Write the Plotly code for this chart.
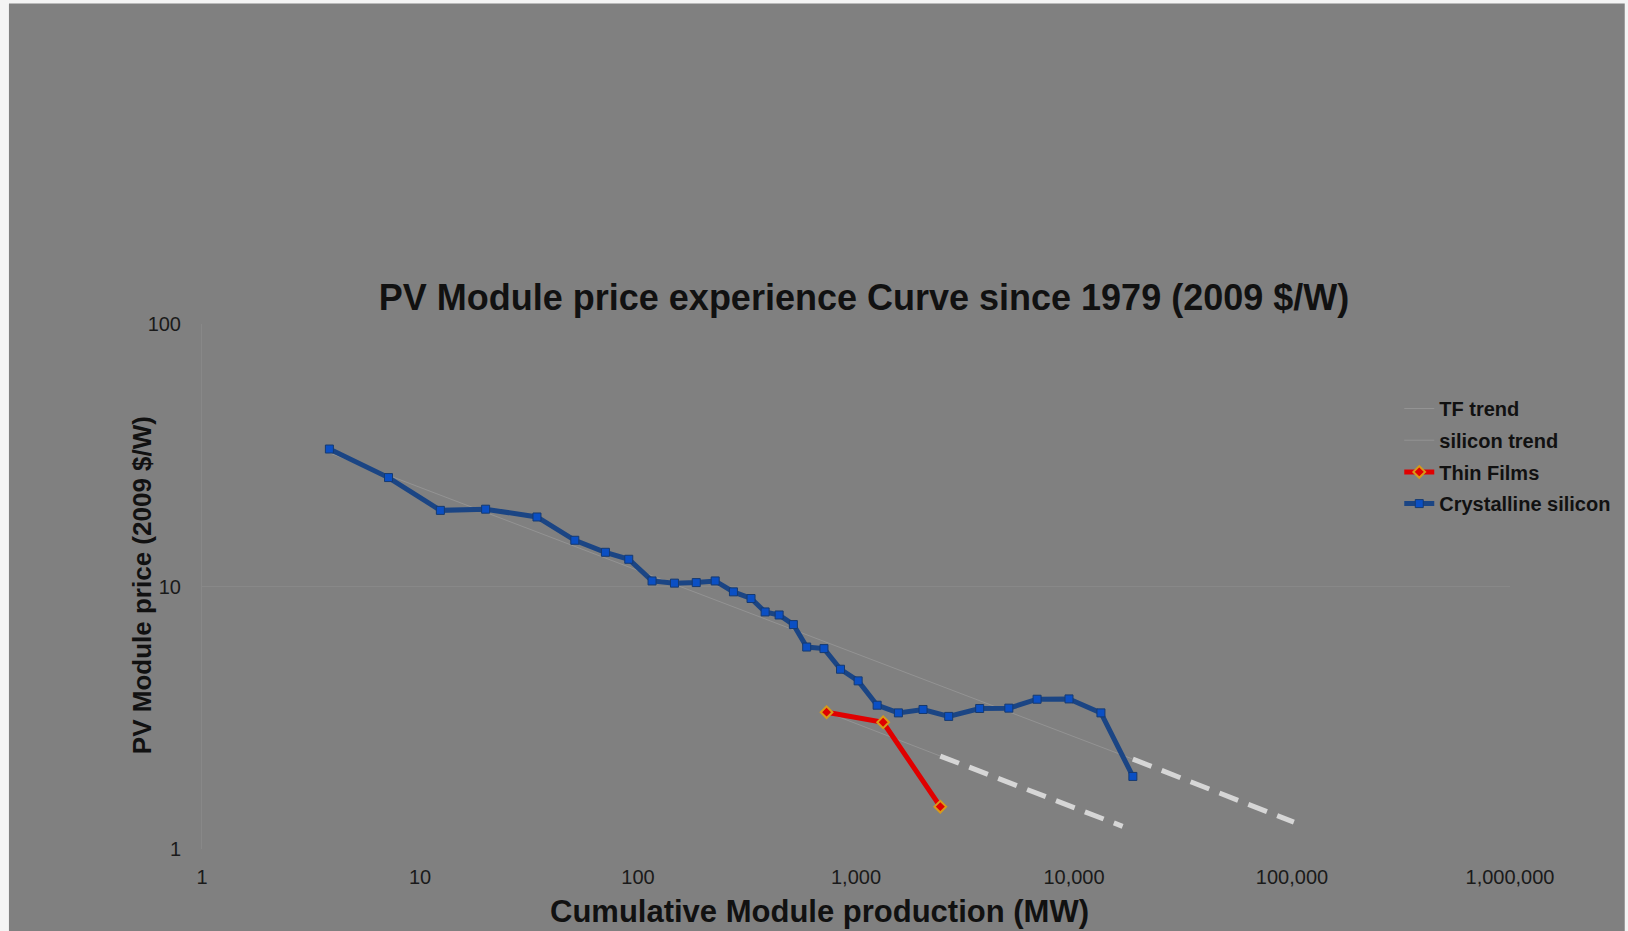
import plotly.graph_objects as go

# Crystalline silicon, one point per year 1979-2009 (cumulative MW, 2009 $/W)
si_mw = [3.84, 7.17, 12.4, 20.0, 34.4, 51.3, 70.9, 90.7, 116, 147, 185, 226, 274,
         330, 383, 444, 516, 594, 713, 849, 1023, 1250, 1565, 2030, 2662, 3692,
         5024, 6771, 9487, 13293, 18620]
si_price = [33.4, 26.0, 19.5, 19.7, 18.4, 15.0, 13.5, 12.7, 10.5, 10.3, 10.35, 10.5,
            9.54, 9.0, 8.0, 7.79, 7.16, 5.88, 5.80, 4.84, 4.37, 3.53, 3.30, 3.40,
            3.20, 3.43, 3.44, 3.72, 3.73, 3.30, 1.89]

# Thin films
tf_mw = [733, 1332, 2436]
tf_price = [3.32, 3.04, 1.45]

# trend lines (fitted part) and their projections
si_trend_mw = [3.84, 18620]
si_trend_price = [32.3, 2.20]
si_proj_mw = [18620, 102000]
si_proj_price = [2.20, 1.265]
tf_trend_mw = [733, 2436]
tf_trend_price = [3.32, 2.26]
tf_proj_mw = [2436, 16710]
tf_proj_price = [2.26, 1.22]

x_ticks = [1, 10, 100, 1000, 10000, 100000, 1000000]
x_ticktext = ["1", "10", "100", "1,000", "10,000", "100,000", "1,000,000"]
y_ticks = [1, 10, 100]
y_ticktext = ["1", "10", "100"]

FONT = "Liberation Sans"
ML, MR, MT, MB = 202, 115, 324, 82
W, H = 1628, 931
PW, PH = W - ML - MR, H - MT - MB

fig = go.Figure()

# TF trend + projection
fig.add_scatter(x=tf_trend_mw, y=tf_trend_price, mode="lines", name="TF trend",
                legendgroup="tf_trend", line=dict(color="#939393", width=1))
fig.add_scatter(x=tf_proj_mw, y=tf_proj_price, mode="lines", showlegend=False,
                legendgroup="tf_trend",
                line=dict(color="#d6d6d6", width=5, dash="20px,11px"))
# silicon trend + projection
fig.add_scatter(x=si_trend_mw, y=si_trend_price, mode="lines", name="silicon trend",
                legendgroup="si_trend", line=dict(color="#939393", width=1))
fig.add_scatter(x=si_proj_mw, y=si_proj_price, mode="lines", showlegend=False,
                legendgroup="si_trend",
                line=dict(color="#d6d6d6", width=5, dash="20px,11px"))

fig.add_scatter(x=tf_mw, y=tf_price, mode="lines+markers", name="Thin Films",
                legendgroup="tf",
                line=dict(color="#e00000", width=5),
                marker=dict(symbol="diamond", size=9, color="#e00000",
                            line=dict(color="#d89a18", width=2)))
fig.add_scatter(x=si_mw, y=si_price, mode="lines+markers", name="Crystalline silicon",
                legendgroup="si",
                line=dict(color="#1b4584", width=5),
                marker=dict(symbol="square", size=8, color="#0a4fc4",
                            line=dict(color="#163a70", width=1)))

# gray canvas with the light strips on the left and top edges (kept inside the figure)
fig.add_shape(type="rect", xref="paper", yref="paper", layer="below",
              x0=(8.5 - ML) / PW, x1=(W - ML) / PW,
              y0=-MB / PH, y1=(PH + MT - 3.5) / PH,
              fillcolor="#808080", line=dict(width=0))

fig.add_annotation(text="Cumulative Module production (MW)", xref="paper", yref="paper",
                   x=(821 - ML) / PW, y=(PH + MT - 911.6) / PH, showarrow=False,
                   xanchor="center", yanchor="middle",
                   font=dict(family=FONT, size=31, color="#111111", weight="bold"))
fig.add_annotation(text="PV Module price (2009 $/W)", xref="paper", yref="paper",
                   x=(142 - ML) / PW, y=(PH + MT - 585) / PH, showarrow=False,
                   textangle=-90, xanchor="center", yanchor="middle",
                   font=dict(family=FONT, size=26, color="#111111", weight="bold"))

fig.update_layout(
    width=W, height=H,
    margin=dict(l=ML, r=MR, t=MT, b=MB),
    paper_bgcolor="#f4f4f4",
    plot_bgcolor="rgba(0,0,0,0)",
    title=dict(text="PV Module price experience Curve since 1979 (2009 $/W)",
               x=864 / W, y=1 - 297 / H, xanchor="center", yanchor="middle",
               xref="container", yref="container",
               font=dict(family=FONT, size=36, color="#111111", weight="bold")),
    legend=dict(x=(1402 - ML) / PW, y=(PH + MT - 389) / PH, xanchor="left", yanchor="top",
                bgcolor="rgba(0,0,0,0)", tracegroupgap=2.7,
                font=dict(family=FONT, size=20, color="#111111", weight="bold")),
    xaxis=dict(type="log", range=[0, 6], tickvals=x_ticks, ticktext=x_ticktext,
               showgrid=False, zeroline=False, showline=False, ticks="",
               ticklabelstandoff=14,
               tickfont=dict(family=FONT, size=20, color="#1a1a1a")),
    yaxis=dict(type="log", range=[0, 2], tickvals=y_ticks, ticktext=y_ticktext,
               showgrid=True, gridcolor="#888888", gridwidth=1, zeroline=False,
               showline=True, linecolor="#888888", linewidth=1, ticks="",
               ticklabelstandoff=16,
               tickfont=dict(family=FONT, size=20, color="#1a1a1a")),
)

fig.write_html("out.html", config={"displayModeBar": False},
               post_script=("document.documentElement.style.overflow='hidden';"
                            "document.body.style.margin='0';"
                            "document.body.style.overflow='hidden';"
                            "var gd=document.getElementById('{plot_id}');"
                            "gd.style.overflow='hidden';"
                            "gd.querySelectorAll('svg.main-svg').forEach(function(s){s.style.overflow='hidden';});"))
